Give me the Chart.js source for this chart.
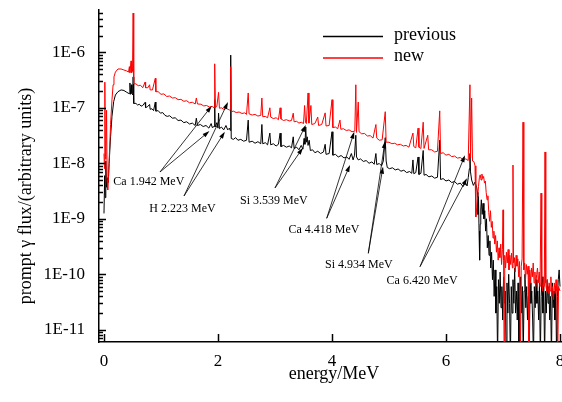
<!DOCTYPE html>
<html><head><meta charset="utf-8">
<script src="https://cdn.jsdelivr.net/npm/chart.js@4.4.1/dist/chart.umd.min.js"></script>
<style>html,body{margin:0;padding:0;background:#fff;overflow:hidden}canvas{display:block}</style>
</head><body>
<canvas id="c" width="562" height="402"></canvas>
<script>
// ---------- data ----------
const seriesNames = ['previous', 'new'];
const xTitle = 'energy/MeV';
const yTitle = 'prompt \u03b3 flux/(arbitrary units)';
const xTicks = [0, 2, 4, 6, 8];
const yTicks = [1e-11, 1e-10, 1e-9, 1e-8, 1e-7, 1e-6];
const yTickLabels = ['1E-11', '1E-10', '1E-9', '1E-8', '1E-7', '1E-6'];
const xRange = [-0.0877, 8.0175];
const yRange = [6.03e-12, 5.78e-6];

// [energy MeV, flux]
const prevPoints = [
[0.000,1.25e-9],[0.012,6.0e-9],[0.022,2.4e-9],[0.032,1.1e-8],[0.045,3.7e-9],[0.06,5.5e-9],[0.075,4.5e-9],[0.09,1.0e-8],[0.115,3.0e-8],[0.14,7.0e-8],[0.17,1.3e-7],[0.2,1.7e-7],[0.245,1.95e-7],[0.3,2.1e-7],[0.35,2.05e-7],[0.4,1.9e-7],[0.44,1.8e-7],[0.455,2.8e-7],[0.465,1.75e-7],[0.48,2.6e-7],[0.49,1.8e-7],[0.505,1.7e-7],[0.511,3.6e-7],[0.518,1.6e-7],[0.525,1.2e-7],
[0.56,1.2e-7],[0.59,1.12e-7],[0.62,1.16e-7],[0.65,1.07e-7],[0.68,1.1e-7],[0.72,1.25e-7],[0.73,1.01e-7],[0.76,1.04e-7],[0.8,1.15e-7],[0.81,9.4e-8],[0.84,9.6e-8],[0.87,8.9e-8],[0.9,1.27e-7],[0.91,8.7e-8],[0.95,8.9e-8],[0.99,8.0e-8],[1.03,8.2e-8],[1.07,7.3e-8],[1.11,7.0e-8],[1.15,7.2e-8],[1.2,6.5e-8],[1.25,6.6e-8],[1.3,5.9e-8],[1.35,6.0e-8],[1.4,5.4e-8],[1.45,5.6e-8],[1.5,5.1e-8],[1.55,5.3e-8],[1.6,4.8e-8],[1.62,6.5e-8],[1.64,4.8e-8],[1.69,5.0e-8],[1.74,4.6e-8],[1.79,4.8e-8],[1.84,4.3e-8],[1.88,5.2e-8],[1.9,4.4e-8],[1.93,4.6e-8],[1.942,1.4e-7],[1.95,4.5e-8],[1.98,5.4e-8],[2.0,4.3e-8],[2.01,8.0e-8],[2.025,4.2e-8],[2.06,4.5e-8],[2.1,4.0e-8],[2.14,4.8e-8],[2.17,4.0e-8],[2.2,4.3e-8],[2.215,3.9e-8],[2.223,8.9e-7],[2.232,2.8e-8],[2.27,2.7e-8],[2.31,2.9e-8],[2.35,2.6e-8],[2.4,2.7e-8],[2.45,2.5e-8],[2.5,2.6e-8],[2.53,6.0e-8],[2.545,2.4e-8],[2.6,2.5e-8],[2.65,2.3e-8],[2.7,2.45e-8],[2.75,2.25e-8],[2.77,5.0e-8],[2.785,2.25e-8],[2.83,2.35e-8],[2.87,2.15e-8],[2.91,3.5e-8],[2.925,2.15e-8],[2.97,2.25e-8],[3.02,2.05e-8],[3.06,2.2e-8],[3.09,3.5e-8],[3.105,2.0e-8],[3.15,2.1e-8],[3.2,1.95e-8],[3.25,2.05e-8],[3.29,1.9e-8],[3.32,3.0e-8],[3.335,1.85e-8],[3.38,1.95e-8],[3.42,1.75e-8],[3.46,2.1e-8],[3.49,1.8e-8],[3.51,2.8e-8],[3.525,2.2e-8],[3.54,4.5e-8],[3.55,2.4e-8],[3.565,3.0e-8],[3.58,2.1e-8],[3.6,2.6e-8],[3.62,1.7e-8],[3.66,1.75e-8],[3.7,1.55e-8],[3.75,1.65e-8],[3.8,1.5e-8],[3.85,1.6e-8],[3.88,2.2e-8],[3.895,1.45e-8],[3.95,1.5e-8],[4.0,3.7e-8],[4.015,1.4e-8],[4.06,1.45e-8],[4.11,1.3e-8],[4.16,1.38e-8],[4.21,1.25e-8],[4.26,1.3e-8],[4.3,1.18e-8],[4.34,1.5e-8],[4.37,1.15e-8],[4.395,1.4e-8],[4.418,3.2e-8],[4.43,1.3e-8],[4.46,1.15e-8],[4.5,1.2e-8],[4.55,1.08e-8],[4.6,1.12e-8],[4.65,1.0e-8],[4.7,1.06e-8],[4.74,9.6e-9],[4.77,1.5e-8],[4.785,9.5e-9],[4.83,9.9e-9],[4.87,9.0e-9],[4.9,1.1e-8],[4.934,2.9e-8],[4.95,1.1e-8],[4.97,8.4e-9],[5.01,8.0e-9],[5.06,8.3e-9],[5.11,7.6e-9],[5.16,7.9e-9],[5.21,7.2e-9],[5.26,7.5e-9],[5.31,6.8e-9],[5.36,7.1e-9],[5.4,6.6e-9],[5.42,1.15e-8],[5.435,6.5e-9],[5.47,6.8e-9],[5.51,1.3e-8],[5.525,6.3e-9],[5.56,6.6e-9],[5.6,1.7e-8],[5.615,6.1e-9],[5.65,6.3e-9],[5.7,5.7e-9],[5.75,5.9e-9],[5.8,5.4e-9],[5.85,5.6e-9],[5.89,2.6e-8],[5.905,5.1e-9],[5.95,5.3e-9],[6.0,4.8e-9],[6.05,5.0e-9],[6.1,4.5e-9],[6.15,4.7e-9],[6.2,4.2e-9],[6.25,4.4e-9],[6.3,3.8e-9],[6.34,4.5e-9],[6.37,3.9e-9],[6.39,5.5e-9],[6.41,8e-9],[6.42,1.5e-8],[6.43,7e-9],[6.45,5.0e-9],[6.48,4.0e-9],[6.51,4.6e-9],[6.54,3.6e-9],
[6.55,3.0e-9],[6.56,1.2e-9],[6.57,2.5e-9],[6.58,6e-10],[6.59,1.8e-10],[6.60,8e-10],[6.61,1.5e-9],[6.62,2.2e-9],[6.635,1.2e-9],[6.65,1.9e-9],[6.665,1.0e-9],[6.68,1.4e-9],[6.695,6e-10],[6.71,1.0e-9],[6.725,3e-10],[6.74,5e-10],[6.755,2.2e-10],[6.77,4e-10],[6.785,1.3e-10],[6.80,2.5e-10],[6.815,8e-11],[6.83,1.8e-10],[6.845,4e-11],[6.86,1.2e-10],[6.875,2e-11],[6.89,6e-11],[6.905,3e-12],[6.92,8e-11],[6.935,3e-11],[6.95,1.1e-10],[6.965,2.5e-11],[6.98,6e-11],[6.995,1.5e-11],[7.01,9e-11],[7.025,3e-11],[7.04,5e-11],[7.055,3e-12],[7.07,7e-11],[7.085,2e-11],[7.10,1.0e-10],[7.115,3e-11],[7.13,3e-12],[7.145,6e-11],[7.16,2e-11],[7.175,8e-11],[7.19,3e-11],[7.205,1.3e-10],[7.22,2e-11],[7.235,5e-11],[7.25,1.5e-11],[7.265,7e-11],[7.28,3e-12],[7.295,4e-11],[7.31,9e-11],[7.325,2e-11],[7.34,6e-11],[7.355,3e-12],[7.37,5e-11],[7.385,1e-10],[7.40,2.5e-11],[7.415,6e-11],[7.43,1.5e-11],[7.445,4e-11],[7.46,3e-12],[7.475,7e-11],[7.49,3e-11],[7.505,5e-11],[7.52,1.5e-11],[7.535,3e-12],[7.55,6e-11],[7.565,2.5e-11],[7.58,8e-11],[7.595,3e-11],[7.61,5e-11],[7.625,1.5e-11],[7.64,7e-11],[7.655,3e-12],[7.67,4e-11],[7.685,9e-11],[7.70,2e-11],[7.715,6e-11],[7.73,3e-12],[7.745,5e-11],[7.76,2e-11],[7.775,8e-11],[7.79,3e-11],[7.805,6e-11],[7.82,1.5e-11],[7.835,4e-11],[7.85,3e-12],[7.865,7e-11],[7.88,2.5e-11],[7.895,5e-11],[7.91,1.5e-11],[7.925,6e-11],[7.94,3e-12],[7.955,4e-11],[7.97,8e-11],[7.985,1.2e-10],[8.0,6e-11]
];

const newPoints = [
[0.0,1.5e-8],[0.008,8e-9],[0.015,2.9e-7],[0.025,1.2e-8],[0.035,2.0e-8],[0.045,9e-8],[0.055,5e-9],[0.065,3.3e-9],[0.08,6e-9],[0.09,1.1e-8],[0.115,5.0e-8],[0.14,1.4e-7],[0.16,2.6e-7],[0.175,3.6e-7],[0.2,4.4e-7],[0.245,5.0e-7],[0.3,5.0e-7],[0.35,4.8e-7],[0.4,4.6e-7],[0.43,4.4e-7],[0.445,5.5e-7],[0.455,4.3e-7],[0.474,7.0e-7],[0.485,4.3e-7],[0.5,4.5e-7],[0.511,5.1e-6],[0.518,4.0e-7],[0.525,2.7e-7],
[0.56,2.7e-7],[0.6,2.5e-7],[0.64,2.55e-7],[0.68,2.3e-7],[0.72,2.9e-7],[0.73,2.3e-7],[0.77,2.3e-7],[0.8,2.6e-7],[0.81,2.1e-7],[0.85,2.1e-7],[0.9,3.4e-7],[0.91,1.95e-7],[0.95,1.95e-7],[1.0,1.75e-7],[1.05,1.78e-7],[1.1,1.6e-7],[1.15,1.63e-7],[1.2,1.5e-7],[1.25,1.52e-7],[1.3,1.4e-7],[1.35,1.42e-7],[1.4,1.31e-7],[1.45,1.34e-7],[1.5,1.23e-7],[1.55,1.26e-7],[1.6,1.17e-7],[1.62,1.5e-7],[1.64,1.17e-7],[1.7,1.16e-7],[1.75,1.08e-7],[1.8,1.1e-7],[1.85,1.03e-7],[1.9,1.06e-7],[1.93,1.0e-7],[1.942,6.2e-7],[1.955,1.0e-7],[1.98,1.07e-7],[2.01,1.9e-7],[2.025,9.8e-8],[2.06,1.0e-7],[2.1,9.4e-8],[2.15,9.7e-8],[2.2,9.1e-8],[2.215,9.4e-8],[2.223,5.5e-7],[2.232,8.5e-8],[2.27,8.7e-8],[2.32,8.2e-8],[2.37,8.4e-8],[2.42,7.9e-8],[2.47,8.1e-8],[2.5,7.6e-8],[2.53,1.85e-7],[2.545,7.8e-8],[2.6,7.4e-8],[2.65,7.6e-8],[2.7,7.1e-8],[2.75,7.3e-8],[2.77,1.5e-7],[2.785,6.9e-8],[2.83,7.0e-8],[2.87,6.6e-8],[2.91,1.0e-7],[2.925,6.8e-8],[2.97,6.4e-8],[3.02,6.6e-8],[3.06,6.1e-8],[3.09,1.0e-7],[3.105,6.3e-8],[3.15,5.9e-8],[3.2,6.1e-8],[3.25,5.8e-8],[3.29,5.9e-8],[3.32,8.0e-8],[3.335,5.6e-8],[3.38,5.7e-8],[3.42,5.3e-8],[3.46,5.5e-8],[3.5,5.2e-8],[3.52,1.1e-7],[3.535,5.4e-8],[3.55,5.2e-8],[3.58,1.85e-7],[3.595,5.3e-8],[3.63,1.1e-7],[3.645,5.0e-8],[3.7,5.2e-8],[3.75,6.8e-8],[3.765,4.8e-8],[3.82,5.0e-8],[3.88,8.1e-8],[3.895,4.7e-8],[3.95,4.8e-8],[4.0,1.4e-7],[4.015,4.4e-8],[4.06,4.5e-8],[4.1,4.2e-8],[4.14,6.0e-8],[4.155,4.1e-8],[4.2,4.2e-8],[4.25,3.9e-8],[4.3,4.0e-8],[4.35,3.7e-8],[4.4,3.8e-8],[4.418,2.6e-7],[4.43,3.6e-8],[4.46,1.27e-7],[4.475,3.7e-8],[4.52,3.4e-8],[4.57,3.45e-8],[4.62,3.1e-8],[4.67,3.15e-8],[4.72,2.85e-8],[4.77,5.0e-8],[4.785,2.85e-8],[4.83,2.6e-8],[4.88,2.65e-8],[4.934,8.5e-8],[4.95,2.4e-8],[5.0,2.4e-8],[5.05,2.25e-8],[5.1,2.3e-8],[5.15,2.15e-8],[5.2,2.2e-8],[5.25,2.05e-8],[5.3,2.1e-8],[5.35,1.95e-8],[5.42,3.5e-8],[5.435,2.0e-8],[5.47,1.9e-8],[5.51,4.3e-8],[5.525,1.95e-8],[5.56,1.85e-8],[5.6,5.5e-8],[5.615,1.85e-8],[5.68,3.2e-8],[5.695,1.75e-8],[5.75,1.75e-8],[5.8,1.6e-8],[5.85,1.65e-8],[5.89,8.8e-8],[5.905,1.5e-8],[5.95,1.55e-8],[6.0,1.4e-8],[6.05,1.45e-8],[6.1,1.32e-8],[6.15,1.35e-8],[6.2,1.24e-8],[6.25,1.27e-8],[6.3,1.17e-8],[6.35,1.2e-8],[6.39,1.12e-8],[6.42,2.6e-7],[6.43,1.3e-8],[6.45,1.5e-7],[6.465,1.1e-8],[6.49,1.07e-8],[6.509,9e-9],
[6.52,3e-9],[6.526,1.08e-9],[6.54,1.6e-9],[6.555,2.5e-9],[6.57,3.8e-9],[6.585,5.5e-9],[6.60,6.2e-9],[6.615,5.0e-9],[6.63,6.4e-9],[6.645,5.3e-9],[6.66,5.8e-9],[6.675,4.4e-9],[6.69,4.8e-9],[6.705,3.0e-9],[6.72,2.2e-9],[6.735,2.6e-9],[6.75,1.3e-9],[6.765,9e-10],[6.78,1.4e-9],[6.795,7e-10],[6.81,9e-10],[6.825,4.5e-10],[6.84,6e-10],[6.855,3.5e-10],[6.87,5e-10],[6.885,2.5e-10],[6.90,4e-10],[6.915,1.8e-10],[6.93,3e-10],[6.945,2e-10],[6.96,3.5e-10],[6.975,1.5e-10],[6.99,2.8e-10],[7.0,1.45e-9],[7.01,1.8e-10],[7.02,3e-12],[7.03,2.2e-10],[7.045,1.3e-10],[7.06,2.5e-10],[7.075,1.6e-10],[7.09,2.8e-10],[7.105,1.2e-10],[7.12,2.2e-10],[7.135,1.5e-10],[7.15,2.4e-10],[7.165,1.3e-10],[7.175,9.3e-9],[7.185,1.6e-10],[7.20,2e-10],[7.215,1.1e-10],[7.23,2.2e-10],[7.245,1.4e-10],[7.26,1.9e-10],[7.275,9e-11],[7.29,1.7e-10],[7.305,3e-12],[7.32,1.4e-10],[7.335,1.9e-10],[7.351,5.5e-8],[7.365,1.2e-10],[7.38,1.6e-10],[7.395,8e-11],[7.41,1.5e-10],[7.425,1.0e-10],[7.44,1.4e-10],[7.455,3e-12],[7.47,1.2e-10],[7.485,7e-11],[7.50,1.3e-10],[7.515,9e-11],[7.53,1.6e-10],[7.545,7e-11],[7.56,1.1e-10],[7.575,6e-11],[7.59,1.0e-10],[7.605,1.3e-10],[7.62,7e-11],[7.635,1.1e-10],[7.65,6e-11],[7.667,2.9e-9],[7.68,8e-11],[7.695,5e-11],[7.71,9e-11],[7.725,6e-11],[7.737,1.6e-8],[7.75,7e-11],[7.765,5e-11],[7.78,8e-11],[7.795,4.5e-11],[7.81,7e-11],[7.825,5e-11],[7.84,9e-11],[7.855,4e-11],[7.87,6e-11],[7.885,3.5e-11],[7.90,7e-11],[7.915,4.5e-11],[7.93,8e-11],[7.945,5e-11],[7.96,3e-12],[7.975,6e-11],[8.0,5e-11]
];

// peak annotations (data coordinates)
const annLabels = ['Ca 1.942 MeV', 'H 2.223 MeV', 'Si 3.539 MeV', 'Ca 4.418 MeV', 'Si 4.934 MeV', 'Ca 6.420 MeV'];
const annTextE = [0.786, 1.377, 2.98, 3.86, 4.47, 5.58];
const annTextFlux = [4.6e-9, 1.5e-9, 2.14e-9, 6.4e-10, 1.5e-10, 7.7e-11];
const annTailE = [0.982, 1.404, 3.0, 3.907, 4.637, 5.544];
const annTailFlux = [6.97e-9, 2.58e-9, 3.6e-9, 1.02e-9, 2.39e-10, 1.37e-10];
const annNewE = [1.89, 2.175, 3.54, 4.39, 4.93, 6.333];
const annNewFlux = [1.08e-7, 1.27e-7, 4.9e-8, 3.7e-8, 2.5e-8, 1.4e-8];
const annPrevE = [1.85, 2.12, 3.49, 4.316, 4.895, 6.368];
const annPrevFlux = [3.8e-8, 3.7e-8, 1.9e-8, 9.3e-9, 8.7e-9, 5.4e-9];

// ---------- drawing ----------
const FONT = "'Liberation Serif','Times New Roman',serif";
const COLORS = ['#000000', '#ff0000'];

function arrow(ctx, x0, y0, x1, y1) {
  const ang = Math.atan2(y1 - y0, x1 - x0);
  const L = 7, W = 2.2;
  ctx.beginPath(); ctx.moveTo(x0, y0); ctx.lineTo(x1 - Math.cos(ang) * 2, y1 - Math.sin(ang) * 2); ctx.stroke();
  ctx.beginPath();
  ctx.moveTo(x1, y1);
  ctx.lineTo(x1 - L * Math.cos(ang) + W * Math.sin(ang), y1 - L * Math.sin(ang) - W * Math.cos(ang));
  ctx.lineTo(x1 - L * Math.cos(ang) - W * Math.sin(ang), y1 - L * Math.sin(ang) + W * Math.cos(ang));
  ctx.closePath(); ctx.fill();
}

const overlay = {
  id: 'overlay',
  afterDraw(chart) {
    const {ctx, chartArea: a, scales: {x, y}} = chart;
    ctx.save();
    ctx.strokeStyle = '#000'; ctx.fillStyle = '#000'; ctx.lineWidth = 1.5;
    const lo = Math.floor(Math.log10(y.min)), hi = Math.ceil(Math.log10(y.max));
    for (let e = lo; e <= hi; e++) for (let m = 1; m <= 9; m++) {
      const v = m * Math.pow(10, e);
      if (v < y.min || v > y.max) continue;
      const py = Math.round(y.getPixelForValue(v)) + 0.5;
      const len = m === 1 ? 7 : 4;
      ctx.beginPath(); ctx.moveTo(a.left, py); ctx.lineTo(a.left + len, py); ctx.stroke();
    }
    xTicks.forEach(v => {
      const px = Math.round(x.getPixelForValue(v)) + 0.5;
      ctx.beginPath(); ctx.moveTo(px, a.bottom); ctx.lineTo(px, a.bottom - 8); ctx.stroke();
    });
    ctx.lineWidth = 0.8;
    ctx.font = '12px ' + FONT;
    ctx.textAlign = 'center'; ctx.textBaseline = 'middle';
    annLabels.forEach((t, i) => {
      const tx = x.getPixelForValue(annTailE[i]), ty = y.getPixelForValue(annTailFlux[i]);
      arrow(ctx, tx, ty, x.getPixelForValue(annNewE[i]), y.getPixelForValue(annNewFlux[i]));
      arrow(ctx, tx, ty, x.getPixelForValue(annPrevE[i]), y.getPixelForValue(annPrevFlux[i]));
      ctx.fillText(t, x.getPixelForValue(annTextE[i]), y.getPixelForValue(annTextFlux[i]));
    });
    ctx.font = '18px ' + FONT;
    ctx.textAlign = 'left';
    chart.data.datasets.forEach((ds, i) => {
      const ly = a.top + 26.5 + i * 21.5;
      ctx.strokeStyle = ds.borderColor; ctx.lineWidth = 1.3;
      ctx.beginPath(); ctx.moveTo(a.left + 224, ly); ctx.lineTo(a.left + 284, ly); ctx.stroke();
      ctx.fillStyle = '#000';
      ctx.fillText(ds.label, a.left + 295, ly - 1.5);
    });
    ctx.textAlign = 'center';
    ctx.fillText(xTitle, (a.left + a.right) / 2 + 4, a.bottom + 32);
    ctx.translate(26, (a.top + a.bottom) / 2 + 20);
    ctx.rotate(-Math.PI / 2);
    ctx.fillText(yTitle, 0, 0);
    ctx.restore();
  }
};

new Chart(document.getElementById('c'), {
  type: 'line',
  data: {
    datasets: [
      {label: seriesNames[0], data: prevPoints.map(p => ({x: p[0], y: p[1]})), borderColor: COLORS[0], borderWidth: 1, pointRadius: 0, order: 1},
      {label: seriesNames[1], data: newPoints.map(p => ({x: p[0], y: p[1]})), borderColor: COLORS[1], borderWidth: 1, pointRadius: 0, order: 0}
    ]
  },
  options: {
    responsive: false, animation: false, devicePixelRatio: 1,
    layout: {padding: {top: 10, right: 1, left: 0, bottom: 0}},
    plugins: {legend: {display: false}, tooltip: {enabled: false}, title: {display: false}},
    elements: {line: {tension: 0}},
    scales: {
      x: {
        type: 'linear', min: xRange[0], max: xRange[1],
        grid: {display: false, drawTicks: false},
        border: {display: true, color: '#000', width: 1.5},
        ticks: {padding: 9, color: '#000', font: {size: 17, family: FONT}, maxRotation: 0, autoSkip: false, callback: v => String(v)},
        afterBuildTicks: s => { s.ticks = xTicks.map(v => ({value: v})); },
        afterFit: s => { s.height = 60; s.paddingLeft = 0; s.paddingRight = 0; }
      },
      y: {
        type: 'logarithmic', min: yRange[0], max: yRange[1],
        grid: {display: false, drawTicks: false},
        border: {display: true, color: '#000', width: 1.5},
        ticks: {padding: 14, color: '#000', font: {size: 17, family: FONT}, autoSkip: false,
          callback: v => { const i = yTicks.findIndex(t => Math.abs(t - v) / t < 1e-6); return i >= 0 ? yTickLabels[i] : ''; }},
        afterBuildTicks: s => { s.ticks = yTicks.map(v => ({value: v})); },
        afterFit: s => { s.width = 99; s.paddingTop = 0; s.paddingBottom = 0; }
      }
    }
  },
  plugins: [overlay]
});
</script>
</body></html>
